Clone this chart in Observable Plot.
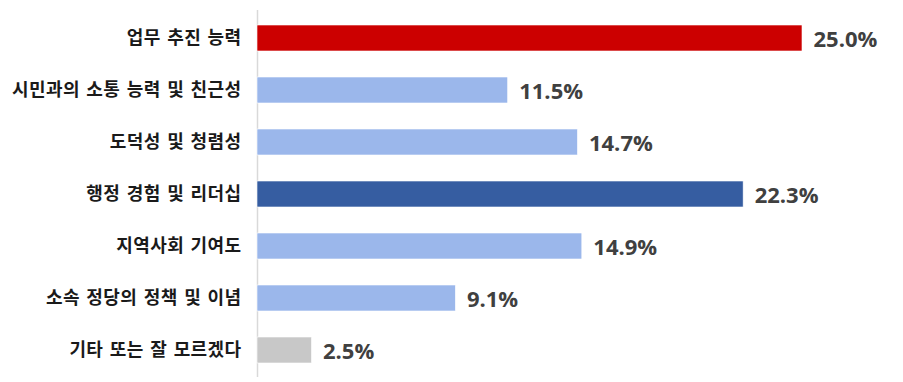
<!DOCTYPE html>
<html><head><meta charset="utf-8">
<script src="https://cdn.jsdelivr.net/npm/d3@7"></script>
<script src="https://cdn.jsdelivr.net/npm/@observablehq/plot@0.6"></script>
<style>
body{margin:0;background:#fff}
#chart svg g[aria-label="y-axis tick label"] text{word-spacing:2px;letter-spacing:0.4px}
</style>
</head><body><div id="chart"></div>
<script>
const categories = ["업무 추진 능력", "시민과의 소통 능력 및 친근성", "도덕성 및 청렴성", "행정 경험 및 리더십", "지역사회 기여도", "소속 정당의 정책 및 이념", "기타 또는 잘 모르겠다"];
const values = [25.0, 11.5, 14.7, 22.3, 14.9, 9.1, 2.5];
const colors = ["#cc0000", "#9bb7eb", "#9bb7eb", "#365da1", "#9bb7eb", "#9bb7eb", "#c8c8c8"];
const data = categories.map((c, i) => ({category: c, value: values[i], color: colors[i]}));

const chart = Plot.plot({
  width: 903, height: 382,
  marginLeft: 257, marginRight: 101, marginTop: 10, marginBottom: 5,
  style: {fontFamily: "'Noto Sans CJK KR', sans-serif", background: "#fff"},
  x: {domain: [0, 25], axis: null},
  y: {domain: categories, paddingInner: 0.5, paddingOuter: 0.25, axis: null, label: null},
  color: {type: "identity"},
  marks: [
    Plot.ruleX([0], {stroke: "#d9d9d9", strokeWidth: 1.5}),
    Plot.barX(data, {x: "value", y: "category", fill: "color", stroke: "#ffffff", strokeWidth: 0.6}),
    Plot.axisY({tickSize: 0, tickPadding: 16, label: null, fontSize: 18, fontWeight: "bold", fill: "#1a1a1a"}),
    Plot.text(data, {x: "value", y: "category", text: d => d.value.toFixed(1) + "%", textAnchor: "start", dx: 11, dy: 1, fontSize: 22, fontWeight: "bold", fill: "#404040", fontFamily: "'Open Sans', sans-serif"})
  ]
});
document.getElementById("chart").append(chart);
</script>
</body></html>
